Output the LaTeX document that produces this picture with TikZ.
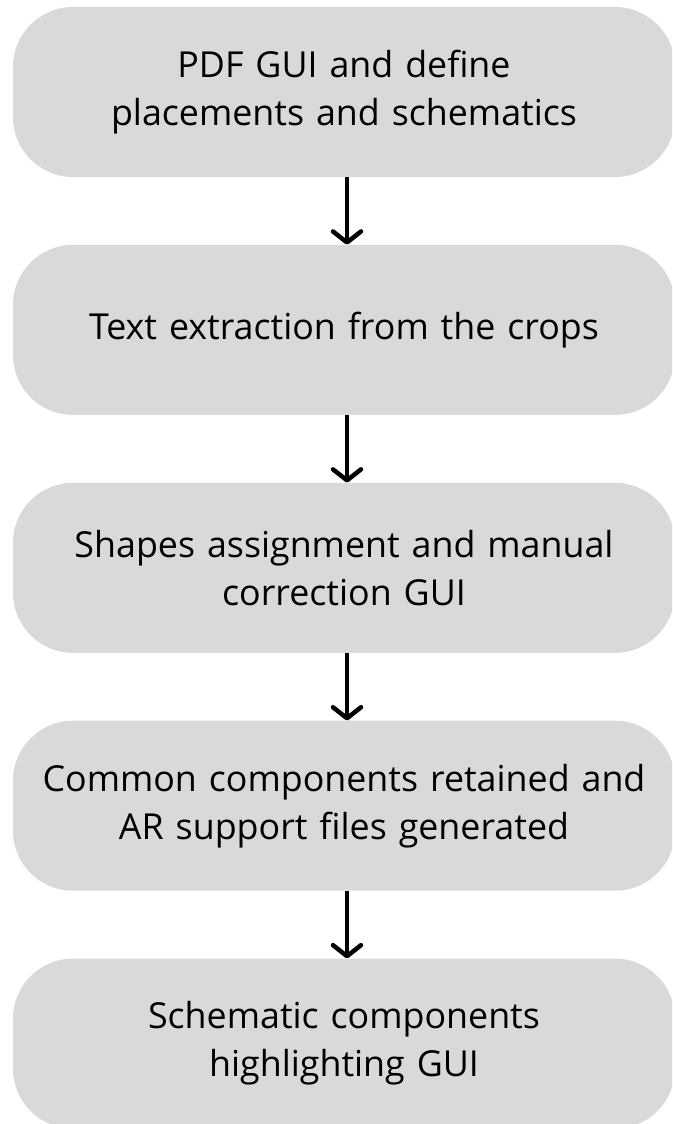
\documentclass[tikz,border=0pt]{standalone}
\usepackage{fontspec}
\setmainfont{Open Sans}
\usepackage{xcolor}
\usetikzlibrary{positioning,arrows.meta}
\definecolor{boxgray}{HTML}{D9D9D9}

\begin{document}
\begin{tikzpicture}[x=1pt, y=1pt, >={Straight Barb[length=11pt, width=28pt, line cap=round, line join=round]},
    node distance=67.5pt,
    stage/.style={fill=boxgray, rounded corners=60pt, minimum width=662pt,
      minimum height=170pt, align=center, text width=640pt,
      font=\fontsize{35.8}{48}\selectfont},
    flow/.style={->, line width=4.5pt}]
  \useasboundingbox (0,0) rectangle (672,-1124);
  \clip (0,0) rectangle (672,-1124);

  \node[stage] (pdf) at (344,-92) {PDF GUI and define\\placements and schematics};
  \node[stage, below=of pdf] (text) {Text extraction from the crops};
  \node[stage, below=of text] (shapes) {Shapes assignment and manual\\correction GUI};
  \node[stage, below=of shapes] (common) {Common components retained and\\AR support files generated};
  \node[stage, below=of common] (highlight) {Schematic components\\highlighting GUI};

  \draw[flow] ([xshift=3pt]pdf.south) -- ([xshift=3pt]text.north);
  \draw[flow] ([xshift=3pt]text.south) -- ([xshift=3pt]shapes.north);
  \draw[flow] ([xshift=3pt]shapes.south) -- ([xshift=3pt]common.north);
  \draw[flow] ([xshift=3pt]common.south) -- ([xshift=3pt]highlight.north);
\end{tikzpicture}
\end{document}
